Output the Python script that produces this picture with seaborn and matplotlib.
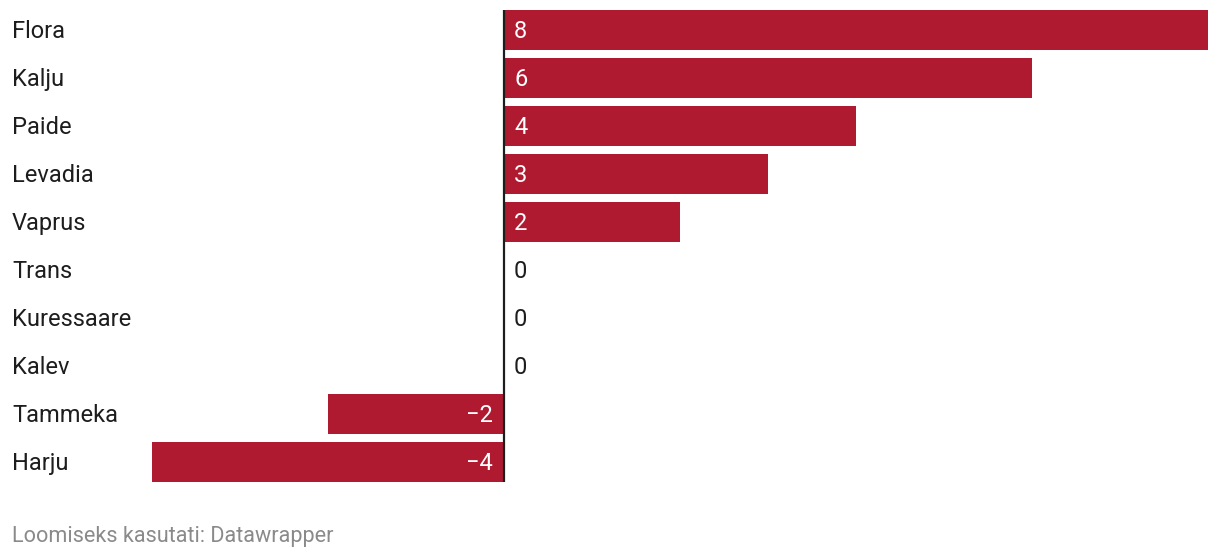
import matplotlib.pyplot as plt
import matplotlib.transforms as mtransforms
import seaborn as sns
import pandas as pd

teams = ['Flora', 'Kalju', 'Paide', 'Levadia', 'Vaprus', 'Trans',
         'Kuressaare', 'Kalev', 'Tammeka', 'Harju']
values = [8, 6, 4, 3, 2, 0, 0, 0, -2, -4]
footer = 'Loomiseks kasutati: Datawrapper'

bar_color = '#b01a31'
text_color = '#1d1d1d'

sns.set_style('white')
plt.rcParams['font.family'] = ['Roboto', 'DejaVu Sans']

df = pd.DataFrame({'team': teams, 'value': values})

fig = plt.figure(figsize=(12.2, 5.58), dpi=100)
ax = fig.add_axes([152 / 1220, 76 / 558, 1056 / 1220, 472 / 558])

sns.barplot(data=df, x='value', y='team', orient='h', color=bar_color,
            saturation=1, width=40 / 48, linewidth=0, ax=ax)

ax.set_xlim(-4, 8)
ax.set_ylim(len(teams) - 1 + 20 / 48, -20 / 48)
ax.axvline(0, color=text_color, lw=1.6, zorder=5)

for s in ax.spines.values():
    s.set_visible(False)
ax.set_xticks([])
ax.set_yticks([])
ax.set_xlabel('')
ax.set_ylabel('')

fs = 17
# baseline sits half a cap height below the row centre
base_dy = -0.711 * fs / 72 / 2

# category labels at the left edge of the figure
lab_tr = mtransforms.blended_transform_factory(fig.transFigure, ax.transData)
lab_off = mtransforms.ScaledTranslation(0, base_dy, fig.dpi_scale_trans)
for i, t in enumerate(teams):
    ax.text(12 / 1220, i, t, transform=lab_tr + lab_off, ha='left',
            va='baseline', fontsize=fs, color=text_color)

# value labels
off = mtransforms.ScaledTranslation(10 / 100, base_dy, fig.dpi_scale_trans)
off_neg = mtransforms.ScaledTranslation(-11 / 100, base_dy, fig.dpi_scale_trans)
for i, v in enumerate(values):
    lbl = str(v).replace('-', '\u2212')
    if v > 0:
        ax.text(0, i, lbl, transform=ax.transData + off, ha='left',
                va='baseline', fontsize=fs, color='white')
    elif v == 0:
        ax.text(0, i, lbl, transform=ax.transData + off, ha='left',
                va='baseline', fontsize=fs, color=text_color)
    else:
        ax.text(0, i, lbl, transform=ax.transData + off_neg, ha='right',
                va='baseline', fontsize=fs, color='white')

fig.text(12 / 1220, 1 - 536.5 / 558, footer, ha='left', va='center',
         fontsize=15.6, color='#8a8a8a')

fig.savefig('out.png', dpi=100)
